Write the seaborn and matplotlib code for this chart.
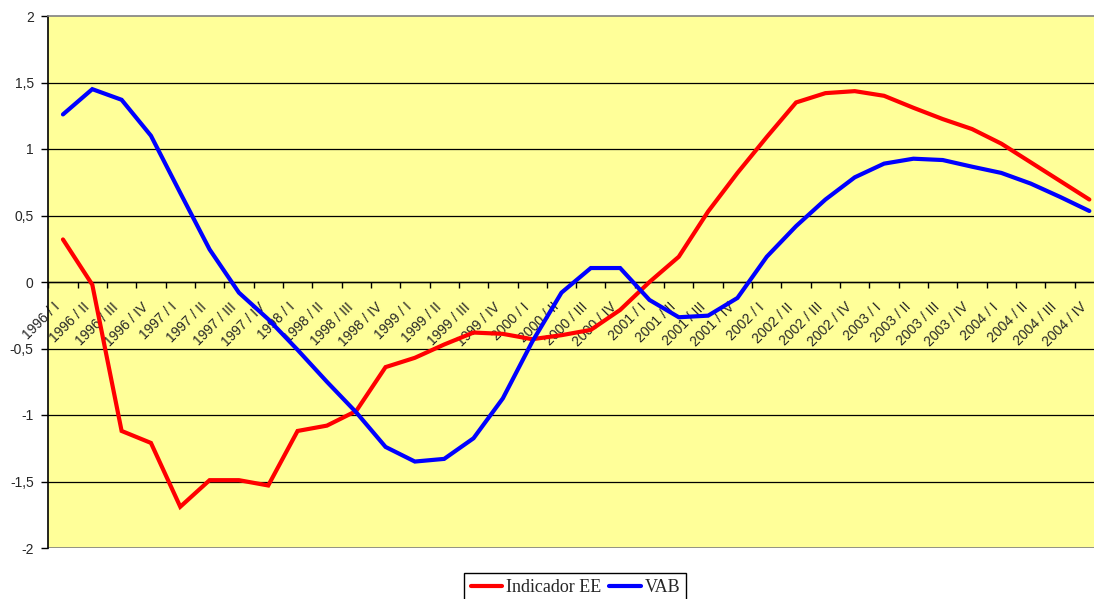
import numpy as np
import pandas as pd
import matplotlib
matplotlib.use("Agg")
import matplotlib.pyplot as plt
import matplotlib.transforms as mtransforms
import seaborn as sns
from matplotlib.ticker import FixedLocator, FuncFormatter

# Quarterly periods 1996 I .. 2004 IV
years = [str(y) for y in range(1996, 2005)]
quarters = ["I", "II", "III", "IV"]
periods = [f"{y} / {q}" for y in years for q in quarters]

indicador_ee = [0.32, -0.02, -1.12, -1.21, -1.69, -1.49, -1.49, -1.53, -1.12, -1.08,
                -0.97, -0.64, -0.57, -0.47, -0.38, -0.39, -0.43, -0.40, -0.36, -0.21,
                0.00, 0.19, 0.53, 0.82, 1.09, 1.35, 1.42, 1.435, 1.40, 1.31,
                1.225, 1.15, 1.04, 0.90, 0.76, 0.62]
vab = [1.26, 1.45, 1.37, 1.10, 0.67, 0.245, -0.08, -0.28, -0.51, -0.75,
       -0.98, -1.24, -1.35, -1.33, -1.175, -0.875, -0.45, -0.08, 0.105, 0.105,
       -0.135, -0.265, -0.253, -0.12, 0.19, 0.42, 0.62, 0.787, 0.89, 0.927,
       0.917, 0.867, 0.82, 0.74, 0.64, 0.534]

series_names = ["Indicador EE", "VAB"]
series_colors = ["#FF0000", "#0000FF"]

df = pd.DataFrame({
    "idx": list(range(len(periods))) * 2,
    "valor": indicador_ee + vab,
    "serie": [series_names[0]] * len(periods) + [series_names[1]] * len(periods),
})

sns.set_style("white")
plt.rcParams["font.family"] = ["Liberation Sans", "DejaVu Sans"]

W, H = 1094, 599
fig = plt.figure(figsize=(W / 100, H / 100), dpi=100)
x0, x1, ytop, ybot = 48.3, 1104.0, 16.0, 548.0
ax = fig.add_axes([x0 / W, (H - ybot) / H, (x1 - x0) / W, (ybot - ytop) / H])
ax.set_facecolor("#FFFF99")

sns.lineplot(data=df, x="idx", y="valor", hue="serie", palette=series_colors,
             hue_order=series_names, linewidth=3, sort=False, ax=ax,
             legend=True)
for ln in ax.lines:
    ln.set_solid_capstyle("round")
    ln.set_solid_joinstyle("miter")
    ln.set_zorder(5)

ax.set_xlim(-0.5, len(periods) - 0.5)
ax.set_ylim(-2, 2)

# horizontal gridlines
for yv in np.arange(-1.5, 2.0, 0.5):
    ax.axhline(yv, color="black", linewidth=0.9, zorder=1)
ax.axhline(-2, color="#808080", linewidth=1.2, zorder=1)

# y axis
ax.yaxis.set_major_locator(FixedLocator(np.arange(-2, 2.01, 0.5)))
ax.yaxis.set_major_formatter(FuncFormatter(lambda v, p: (f"{v:g}").replace(".", ",")))
ax.tick_params(axis="y", direction="out", length=5, width=1, color="black",
               labelsize=10, pad=5.5, left=True)

# x axis at zero, ticks between categories, labels at category centres
ax.spines["bottom"].set_position(("data", 0))
ax.spines["bottom"].set_color("black")
ax.spines["bottom"].set_linewidth(1)
ax.spines["left"].set_color("black")
ax.spines["left"].set_linewidth(1.2)
ax.spines["top"].set_color("#808080")
ax.spines["top"].set_linewidth(1.2)
ax.spines["right"].set_visible(False)

ax.set_xticks(range(len(periods)))
ax.set_xticklabels(periods, rotation=45, ha="right", va="center",
                   rotation_mode="anchor", fontsize=10)
ax.set_xticks(np.arange(-0.5, len(periods), 1.0), minor=True)
ax.tick_params(axis="x", which="major", length=0, pad=16.5, bottom=True)
ax.tick_params(axis="x", which="minor", direction="out", length=4, width=1,
               color="black", bottom=True)
shift = mtransforms.ScaledTranslation(-0.05, 0, fig.dpi_scale_trans)
for lab in ax.get_xticklabels():
    lab.set_transform(lab.get_transform() + shift)
ax.set_xlabel("")
ax.set_ylabel("")

handles, labels = ax.get_legend_handles_labels()
ax.get_legend().remove()
leg = fig.legend(handles, labels, loc="upper center",
                 bbox_to_anchor=(575.3 / W, 1 - 573 / H), ncol=2, frameon=True,
                 fancybox=False, edgecolor="black", framealpha=1,
                 prop={"family": "Liberation Serif", "size": 13},
                 handlelength=1.75, handletextpad=0.2, columnspacing=0.45,
                 borderpad=0.35, borderaxespad=0)
leg.get_frame().set_linewidth(1)
for h in leg.get_lines():
    h.set_linewidth(3)

fig.savefig("out.png", dpi=100, facecolor="white")
